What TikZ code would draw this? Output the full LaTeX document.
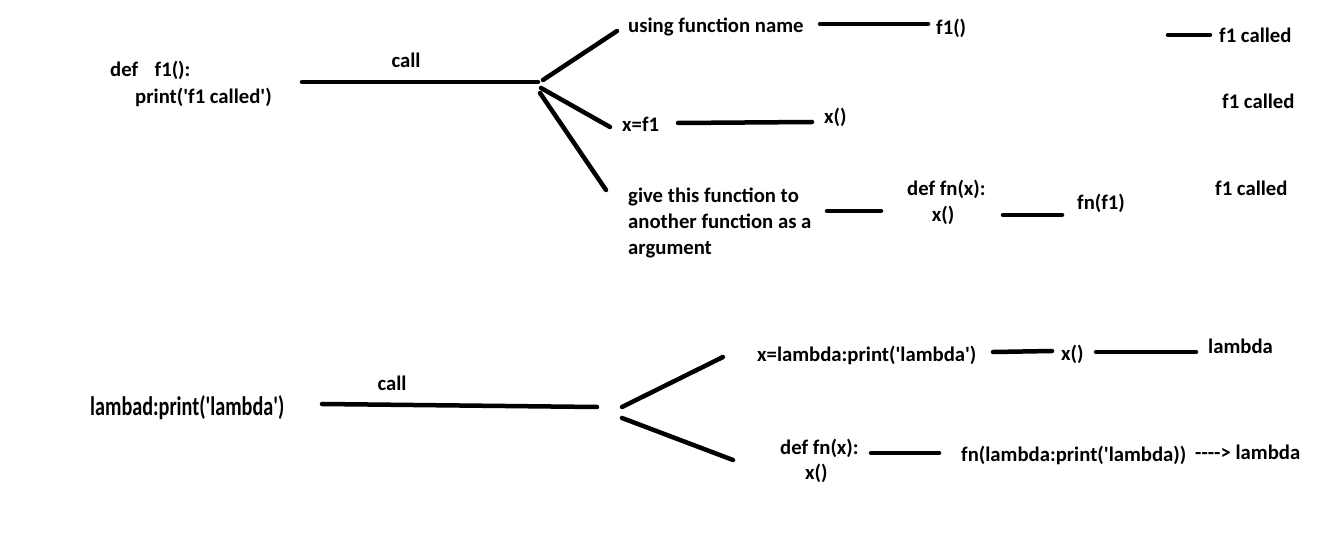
\documentclass[tikz,border=0pt]{standalone}
\usepackage{fontspec}
\newfontfamily\calfont{Carlito}
\begin{document}
\begin{tikzpicture}[x=1bp,y=-1bp,
  lbl/.style={anchor=west,inner sep=0pt,font=\calfont\bfseries\fontsize{20.8}{26}\selectfont},
  ln/.style={line width=4.5bp,line cap=round}]
\useasboundingbox (0,0) rectangle (1331,554);
% ---------- top part ----------
\node[lbl] (def1) at (110,70) {def\hspace{0.8em}f1():};
\node[lbl] (pr1) at (135,97) {print('f1 called')};
\node[lbl,anchor=center] (call1) at (406,60) {call};
\coordinate (c1a) at (302,82); \coordinate (c1b) at (538,82);
\draw[ln] (c1a) -- (c1b);
\coordinate (b1s) at (543,80); \coordinate (b1e) at (617,31);
\coordinate (b2s) at (541,88); \coordinate (b2e) at (610,127);
\coordinate (b3s) at (540,93); \coordinate (b3e) at (606,190);
\draw[ln] (b1s) -- (b1e);
\draw[ln] (b2s) -- (b2e);
\draw[ln] (b3s) -- (b3e);
% branch 1
\node[lbl] (use) at (628,27) {using function name};
\coordinate (l1a) at (820,24); \coordinate (l1b) at (928,24);
\draw[ln] (l1a) -- (l1b);
\node[lbl] (f1c) at (936,28) {f1()};
\coordinate (l2a) at (1168,35); \coordinate (l2b) at (1210,35);
\draw[ln] (l2a) -- (l2b);
\node[lbl] (out1) at (1219,35) {f1 called};
% branch 2
\node[lbl] (xf1) at (622,124) {x=f1};
\coordinate (l3a) at (678,123); \coordinate (l3b) at (812,122);
\draw[ln] (l3a) -- (l3b);
\node[lbl] (xcall) at (824,117) {x()};
\node[lbl] (out2) at (1222,101) {f1 called};
% branch 3
\node[lbl,align=left] (give) at (628,223) {give this function to\\another function as a\\argument};
\coordinate (l4a) at (827,211); \coordinate (l4b) at (881,211);
\draw[ln] (l4a) -- (l4b);
\node[lbl] (deffn) at (907,189) {def fn(x):};
\node[lbl,anchor=center] (xin) at (943,215) {x()};
\coordinate (l5a) at (1003,215); \coordinate (l5b) at (1062,215);
\draw[ln] (l5a) -- (l5b);
\node[lbl] (fnf1) at (1077,203) {fn(f1)};
\node[lbl] (out3) at (1215,188) {f1 called};
% ---------- bottom part ----------
\node[lbl] (lam) at (90,408) {\fontsize{27}{30}\selectfont\scalebox{0.75}[1]{lambad:print('lambda')}};
\node[lbl,anchor=center] (call2) at (392,383) {call};
\coordinate (m1a) at (322,404); \coordinate (m1b) at (597,407);
\draw[ln] (m1a) -- (m1b);
\coordinate (d1s) at (622,407); \coordinate (d1e) at (723,357);
\coordinate (d2s) at (622,418); \coordinate (d2e) at (733,460);
\draw[ln] (d1s) -- (d1e);
\draw[ln] (d2s) -- (d2e);
\node[lbl] (xlam) at (757,355) {x=lambda:print('lambda')};
\coordinate (m2a) at (993,352); \coordinate (m2b) at (1052,351);
\draw[ln] (m2a) -- (m2b);
\node[lbl] (xcall2) at (1061,354) {x()};
\coordinate (m3a) at (1096,352); \coordinate (m3b) at (1196,352);
\draw[ln] (m3a) -- (m3b);
\node[lbl] (lamout) at (1208,346) {lambda};
\node[lbl] (deffn2) at (780,448) {def fn(x):};
\node[lbl] (xin2) at (805,473) {x()};
\coordinate (m4a) at (871,453); \coordinate (m4b) at (939,453);
\draw[ln] (m4a) -- (m4b);
\node[lbl] (fnlam) at (961,455) {fn(lambda:print('lambda))};
\node[lbl] (res) at (1195,452) {----> lambda};
\end{tikzpicture}
\end{document}
